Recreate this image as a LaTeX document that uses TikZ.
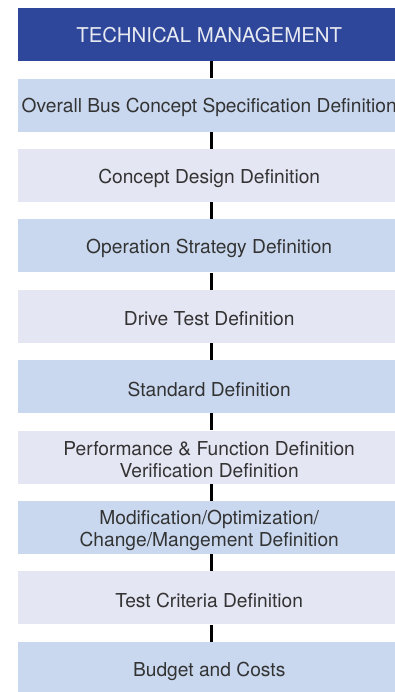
\documentclass[tikz,border=0pt]{standalone}
\usepackage{fontspec}
\setmainfont{TeX Gyre Heros}
\definecolor{headblue}{HTML}{2E479A}
\definecolor{stepblue}{HTML}{C9D8EF}
\definecolor{steplav}{HTML}{E4E6F3}
\definecolor{steptext}{HTML}{333333}
\definecolor{headtext}{HTML}{E8EAF2}
\begin{document}
\begin{tikzpicture}[x=1pt,y=-1pt,
  box/.style={minimum width=382pt,minimum height=53pt,inner sep=0pt,
    anchor=north west},
  bluebox/.style={box,fill=stepblue},
  lavbox/.style={box,fill=steplav},
  headbox/.style={box,fill=headblue},
  steplabel/.style={align=center,text=steptext,inner sep=0pt,
    font=\fontsize{19.2}{22}\selectfont},
  headlabel/.style={text=headtext,inner sep=0pt,
    font=\fontsize{20.4}{24}\selectfont},
  link/.style={line width=3pt,black}]
\useasboundingbox[fill=white] (0,0) rectangle (395,692);
% boxes
\node[headbox] (h) at (18,8) {};
\node[bluebox] (s1) at (18,78.4) {};
\node[lavbox]  (s2) at (18,148.8) {};
\node[bluebox] (s3) at (18,219.2) {};
\node[lavbox]  (s4) at (18,289.6) {};
\node[bluebox] (s5) at (18,360) {};
\node[lavbox]  (s6) at (18,430.4) {};
\node[bluebox] (s7) at (18,500.8) {};
\node[lavbox]  (s8) at (18,571.2) {};
\node[bluebox] (s9) at (18,641.6) {};
% texts
\node[headlabel] (th) at (h.center) {TECHNICAL MANAGEMENT};
\node[steplabel] (t1) at ([yshift=-2.5pt]s1.center) {Overall Bus Concept Specification Definition};
\node[steplabel] (t2) at ([yshift=-2.5pt]s2.center) {Concept Design Definition};
\node[steplabel] (t3) at ([yshift=-2.5pt]s3.center) {Operation Strategy Definition};
\node[steplabel] (t4) at ([yshift=-2.5pt]s4.center) {Drive Test Definition};
\node[steplabel] (t5) at ([yshift=-2.5pt]s5.center) {Standard Definition};
\node[steplabel] (t6) at ([yshift=-2.5pt]s6.center) {Performance \& Function Definition\\Verification Definition};
\node[steplabel] (t7) at ([yshift=-2.5pt]s7.center) {Modification/Optimization/\\Change/Mangement Definition};
\node[steplabel] (t8) at ([yshift=-2.5pt]s8.center) {Test Criteria Definition};
\node[steplabel] (t9) at ([yshift=-3.5pt]s9.center) {Budget and Costs};
% connectors
\foreach \a/\b in {h/s1,s1/s2,s2/s3,s3/s4,s4/s5,s5/s6,s6/s7,s7/s8,s8/s9}
  \draw[link] ([xshift=2.5pt]\a.south) -- ([xshift=2.5pt]\b.north);
\end{tikzpicture}
\end{document}
